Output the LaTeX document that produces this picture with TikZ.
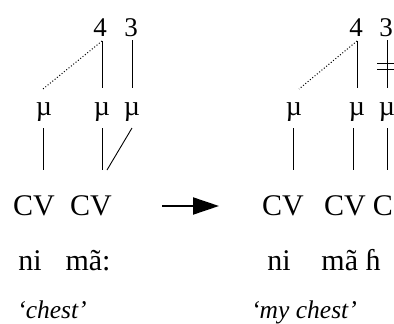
\documentclass[tikz,border=0pt]{standalone}
\usepackage{fontspec}
\setmainfont{Liberation Serif}
\usetikzlibrary{arrows.meta}
\begin{document}
\begin{tikzpicture}[x=1pt,y=-1pt,
  txt/.style={inner sep=0pt,anchor=base,font=\fontsize{30}{30}\selectfont},
  num/.style={inner sep=0pt,anchor=base,font=\fontsize{27}{27}\selectfont},
  mu/.style={inner sep=0pt,anchor=base,font=\fontsize{28}{28}\selectfont},
  gl/.style={inner sep=0pt,anchor=base,font=\fontsize{25.5}{25.5}\selectfont\itshape},
  ln/.style={line width=0.9pt},
  dl/.style={line width=1pt,dotted}]
\useasboundingbox (0,0) rectangle (394,324);
% left structure
\node[num] (n4) at (100,36) {4};
\node[num] (n3) at (131,36) {3};
\node[mu] (m1) at (44,115) {µ};
\node[mu] (m2) at (102,115) {µ};
\node[mu] (m3) at (132,115) {µ};
\node[txt] (cv1) at (34,215) {CV};
\node[txt] (cv2) at (91,215) {CV};
\node[txt] (s1) at (30,270) {ni};
\node[txt] (s2) at (88,270) {mã:};
\node[gl] (g1) at (52,318.5) {‘chest’};
\coordinate (n4b) at (102,41);
\coordinate (n3b) at (132,40);
\coordinate (m1t) at (43,89);
\coordinate (m2t) at (102,88);
\coordinate (m3t) at (132,88);
\coordinate (m1b) at (43,128);
\coordinate (m2b) at (102,128);
\coordinate (m3b) at (132,128);
\coordinate (c1t) at (43,170);
\coordinate (c2t) at (102,170);
\coordinate (c2d) at (107,170);
\draw[dl] (n4b) -- (m1t);
\draw[ln] (n4b) -- (m2t);
\draw[ln] (n3b) -- (m3t);
\draw[ln] (m1b) -- (c1t);
\draw[ln] (m2b) -- (c2t);
\draw[ln] (m3b) -- (c2d);
% arrow
\coordinate (ar1) at (162,206);
\coordinate (ar2) at (219,206);
\draw[line width=2pt,-{Triangle[length=26pt,width=17pt]}] (ar1) -- (ar2);
% right structure
\node[num] (r4) at (356,36) {4};
\node[num] (r3) at (386,36) {3};
\node[mu] (rm1) at (294,115) {µ};
\node[mu] (rm2) at (357,115) {µ};
\node[mu] (rm3) at (387,115) {µ};
\node[txt] (rcv1) at (283,215) {CV};
\node[txt] (rcv2) at (345,215) {CV};
\node[txt] (rc3) at (383,215) {C};
\node[txt] (rs1) at (279,270) {ni};
\node[txt] (rs2) at (351,270) {mã ɦ};
\node[gl] (rg1) at (304,318.5) {‘my chest’};
\coordinate (r4b) at (357,41);
\coordinate (r3b) at (387,40);
\coordinate (rm1t) at (299,89);
\coordinate (rm2t) at (357,88);
\coordinate (rm3t) at (387,88);
\coordinate (rm1b) at (293,128);
\coordinate (rm2b) at (353,128);
\coordinate (rm3b) at (387,128);
\coordinate (rc1t) at (293,170);
\coordinate (rc2t) at (353,170);
\coordinate (rc3t) at (387,170);
\coordinate (bar1l) at (377,63);
\coordinate (bar1r) at (397,63);
\coordinate (bar2l) at (377,69);
\coordinate (bar2r) at (397,69);
\draw[dl] (r4b) -- (rm1t);
\draw[ln] (r4b) -- (rm2t);
\draw[ln] (r3b) -- (rm3t);
\draw[ln] (bar1l) -- (bar1r);
\draw[ln] (bar2l) -- (bar2r);
\draw[ln] (rm1b) -- (rc1t);
\draw[ln] (rm2b) -- (rc2t);
\draw[ln] (rm3b) -- (rc3t);
\end{tikzpicture}
\end{document}
